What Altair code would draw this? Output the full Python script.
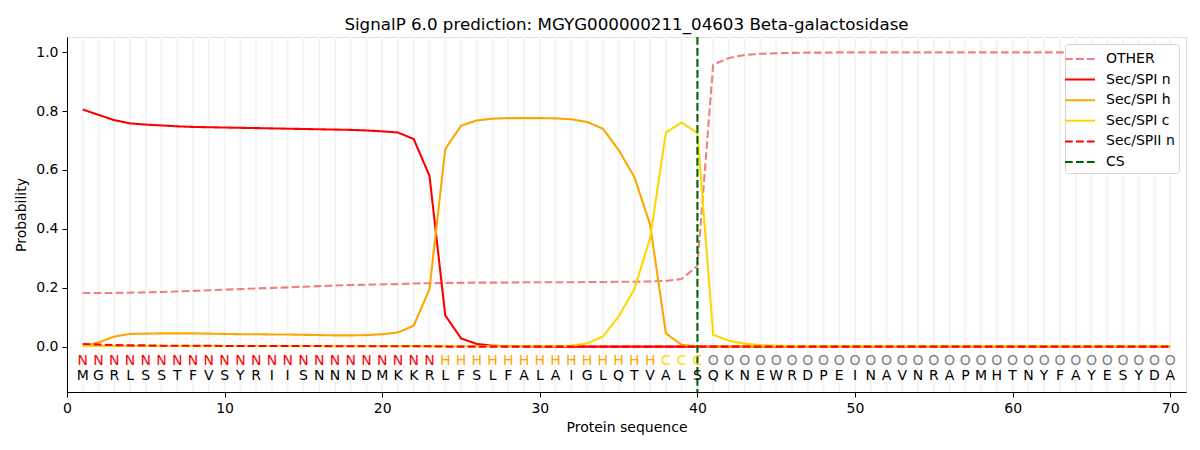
import altair as alt
import pandas as pd

positions = list(range(1, 71))
sequence = list("MGRLSSTFVSYRIISNNNDMKKRLFSLFALAIGLQTVALSQKNEWRDPEINAVNRAPMHTNYFAYESYDA")
region_labels = list("N" * 23 + "H" * 14 + "C" * 3 + "O" * 30)

other = [0.183, 0.183, 0.183, 0.184, 0.185, 0.186, 0.188, 0.190, 0.192, 0.194,
         0.196, 0.198, 0.200, 0.202, 0.204, 0.206, 0.208, 0.210, 0.211, 0.212,
         0.213, 0.215, 0.216, 0.217, 0.217, 0.218, 0.218, 0.218, 0.219, 0.219,
         0.219, 0.219, 0.220, 0.220, 0.221, 0.221, 0.222, 0.224, 0.230, 0.275,
         0.957, 0.980, 0.990, 0.994, 0.996, 0.997, 0.998, 0.998, 0.999, 0.999,
         0.999, 0.999, 0.999, 0.999, 0.999, 0.999, 0.999, 0.999, 0.999, 0.999,
         0.999, 0.999, 0.999, 0.999, 0.999, 0.999, 0.999, 0.999, 0.999, 0.999]
sp_n = [0.805, 0.787, 0.769, 0.758, 0.754, 0.751, 0.748, 0.746, 0.745, 0.744,
        0.743, 0.742, 0.741, 0.740, 0.739, 0.738, 0.737, 0.736, 0.734, 0.731,
        0.727, 0.705, 0.580, 0.107, 0.029, 0.010, 0.004, 0.002, 0.002, 0.001,
        0.001, 0.001, 0.001, 0.001, 0.001, 0.001, 0.001, 0.001, 0.001, 0.001,
        0.001, 0.001, 0.001, 0.001, 0.001, 0.001, 0.001, 0.001, 0.001, 0.001,
        0.001, 0.001, 0.001, 0.001, 0.001, 0.001, 0.001, 0.001, 0.001, 0.001,
        0.001, 0.001, 0.001, 0.001, 0.001, 0.001, 0.001, 0.001, 0.001, 0.001]
sp_h = [0.002, 0.015, 0.035, 0.044, 0.045, 0.046, 0.046, 0.046, 0.045, 0.044,
        0.043, 0.043, 0.042, 0.042, 0.041, 0.040, 0.039, 0.039, 0.040, 0.043,
        0.049, 0.072, 0.196, 0.671, 0.750, 0.768, 0.774, 0.776, 0.776, 0.776,
        0.775, 0.772, 0.763, 0.740, 0.668, 0.576, 0.414, 0.046, 0.007, 0.002,
        0.001, 0.001, 0.001, 0.001, 0.001, 0.001, 0.001, 0.001, 0.001, 0.001,
        0.001, 0.001, 0.001, 0.001, 0.001, 0.001, 0.001, 0.001, 0.001, 0.001,
        0.001, 0.001, 0.001, 0.001, 0.001, 0.001, 0.001, 0.001, 0.001, 0.001]
sp_c = [0.003, 0.003, 0.003, 0.003, 0.003, 0.003, 0.003, 0.003, 0.003, 0.003,
        0.003, 0.003, 0.003, 0.003, 0.003, 0.003, 0.003, 0.003, 0.003, 0.003,
        0.003, 0.003, 0.002, 0.002, 0.002, 0.002, 0.002, 0.002, 0.002, 0.002,
        0.002, 0.004, 0.012, 0.035, 0.103, 0.196, 0.369, 0.727, 0.761, 0.725,
        0.041, 0.021, 0.011, 0.006, 0.004, 0.003, 0.002, 0.002, 0.002, 0.002,
        0.002, 0.002, 0.002, 0.002, 0.002, 0.002, 0.002, 0.002, 0.002, 0.002,
        0.002, 0.002, 0.002, 0.002, 0.002, 0.002, 0.002, 0.002, 0.002, 0.002]
spii_n = [0.010, 0.008, 0.006, 0.005, 0.005, 0.004, 0.004, 0.004, 0.004, 0.003,
          0.003, 0.003, 0.003, 0.003, 0.003, 0.003, 0.002, 0.002, 0.002, 0.002,
          0.002, 0.002, 0.002, 0.001, 0.001, 0.001, 0.001, 0.001, 0.001, 0.001,
          0.001, 0.001, 0.001, 0.001, 0.001, 0.001, 0.001, 0.001, 0.001, 0.001,
          0.001, 0.001, 0.001, 0.001, 0.001, 0.001, 0.001, 0.001, 0.001, 0.001,
          0.001, 0.001, 0.001, 0.001, 0.001, 0.001, 0.001, 0.001, 0.001, 0.001,
          0.001, 0.001, 0.001, 0.001, 0.001, 0.001, 0.001, 0.001, 0.001, 0.001]
cs_position = 40

series_names = ["OTHER", "Sec/SPI n", "Sec/SPI h", "Sec/SPI c", "Sec/SPII n", "CS"]
series_colors = ["#f08080", "#ff0000", "#ffa500", "#ffd700", "#ff0000", "#006400"]
series_dash = [[7.7, 3.3], [1, 0], [1, 0], [1, 0], [7.7, 3.3], [7.7, 3.3]]
series_values = [other, sp_n, sp_h, sp_c, spii_n]

label_colors = {"N": "#ff0000", "H": "#ffa500", "C": "#ffd700", "O": "#808080"}

FONT = "DejaVu Sans"

color_scale = alt.Scale(domain=series_names, range=series_colors)
dash_scale = alt.Scale(domain=series_names, range=series_dash)
legend = alt.Legend(title=None, orient="top-right", offset=7, symbolType="M-1.5,0H1.5",
                    symbolSize=400, symbolStrokeWidth=2, labelFont=FONT, labelFontSize=14,
                    labelColor="black", labelOffset=15, padding=4, rowPadding=2.6,
                    fillColor="white", strokeColor="#d3d3d3", cornerRadius=3)

xscale = alt.Scale(domain=[0, 71], nice=False, zero=False)
yscale = alt.Scale(domain=[-0.153, 1.051], nice=False, zero=False)

xaxis = alt.Axis(values=list(range(0, 71, 10)), title="Protein sequence", grid=False,
                 labelFont=FONT, labelFontSize=14, titleFont=FONT, titleFontSize=14,
                 titleFontWeight="normal", labelColor="black", titleColor="black",
                 tickColor="black", domainColor="black", tickSize=5, labelPadding=4,
                 titlePadding=5, labelFlush=False)
yaxis = alt.Axis(values=[0.0, 0.2, 0.4, 0.6, 0.8, 1.0], format=".1f", title="Probability",
                 grid=False, labelFont=FONT, labelFontSize=14, titleFont=FONT,
                 titleFontSize=14, titleFontWeight="normal", labelColor="black",
                 titleColor="black", tickColor="black", domainColor="black", tickSize=5,
                 labelPadding=4, titlePadding=7, labelFlush=False)

grid_df = pd.DataFrame({"pos": positions})
grid = alt.Chart(grid_df).mark_rule(color="#f4f4f4", strokeWidth=2).encode(
    x=alt.X("pos:Q", scale=xscale, axis=xaxis)
)

layers = [grid]
for name, vals in zip(series_names[:5], series_values):
    df = pd.DataFrame({"pos": positions, "prob": vals, "series": name})
    layers.append(
        alt.Chart(df).mark_line(strokeWidth=2.1).encode(
            x=alt.X("pos:Q", scale=xscale, axis=xaxis),
            y=alt.Y("prob:Q", scale=yscale, axis=yaxis),
            color=alt.Color("series:N", scale=color_scale, legend=legend),
            strokeDash=alt.StrokeDash("series:N", scale=dash_scale, legend=legend),
        )
    )

cs_df = pd.DataFrame({"pos": [cs_position], "series": ["CS"]})
layers.append(
    alt.Chart(cs_df).mark_rule(strokeWidth=2.1).encode(
        x=alt.X("pos:Q", scale=xscale, axis=xaxis),
        color=alt.Color("series:N", scale=color_scale, legend=legend),
        strokeDash=alt.StrokeDash("series:N", scale=dash_scale, legend=legend),
    )
)

text_df = pd.DataFrame({"pos": positions, "res": sequence, "lab": region_labels})
layers.append(
    alt.Chart(text_df).transform_calculate(ypos="-0.098").mark_text(
        font=FONT, fontSize=14, color="black", baseline="middle"
    ).encode(
        x=alt.X("pos:Q", scale=xscale, axis=xaxis),
        y=alt.Y("ypos:Q", scale=yscale, axis=yaxis),
        text="res:N",
    )
)
for lab, col in label_colors.items():
    layers.append(
        alt.Chart(text_df).transform_filter(alt.datum.lab == lab).transform_calculate(
            ypos="-0.048"
        ).mark_text(font=FONT, fontSize=14, color=col, baseline="middle").encode(
            x=alt.X("pos:Q", scale=xscale, axis=xaxis),
            y=alt.Y("ypos:Q", scale=yscale, axis=yaxis),
            text="lab:N",
        )
    )

chart = alt.layer(*layers).properties(
    width=1119,
    height=355,
    autosize=alt.AutoSizeParams(type="none"),
    padding={"left": 59, "top": 29, "right": 6, "bottom": 50},
    title=alt.Title("SignalP 6.0 prediction: MGYG000000211_04603 Beta-galactosidase",
                    font=FONT, fontSize=16.7, fontWeight="normal", color="black",
                    anchor="middle", offset=2),
).configure_view(stroke="black", strokeWidth=1.1).configure(background="white")

chart.save("out.html", embed_options={"renderer": "svg", "actions": False})
